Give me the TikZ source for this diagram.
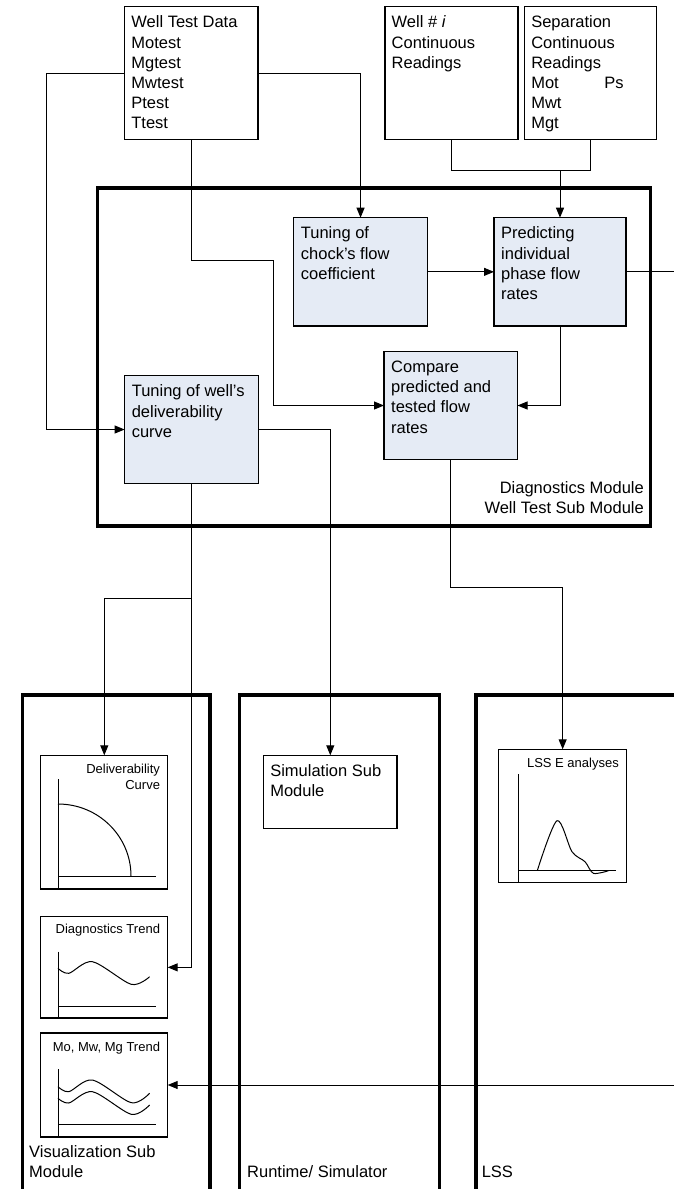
\documentclass[tikz,border=0pt]{standalone}
\usepackage{fontspec}
\setmainfont{Liberation Sans}
\usetikzlibrary{arrows.meta,calc}
\definecolor{boxfill}{RGB}{229,235,245}
\begin{document}
\begin{tikzpicture}[x=1pt,y=-1pt,
  arr/.style={line width=1pt,-{Triangle[length=10pt,width=8pt]}},
  conn/.style={line width=1pt},
  databox/.style={draw,line width=1.3pt,anchor=north west,inner sep=0pt,outer sep=0pt},
  procbox/.style={draw,line width=1.3pt,fill=boxfill,anchor=north west,inner sep=0pt,outer sep=0pt},
  modbox/.style={draw,line width=3.5pt,anchor=north west,inner sep=0pt,outer sep=0pt},
  chartbox/.style={draw,line width=1.1pt,anchor=north west,inner sep=0pt,outer sep=0pt},
  txt/.style={anchor=north west,align=left,inner sep=0pt,font=\fontsize{16.5}{20.2}\selectfont},
  smalltxt/.style={anchor=north east,align=right,inner sep=0pt,font=\fontsize{13}{16}\selectfont},
  curve/.style={line width=1pt}]
\clip (0,0) rectangle (674,1189);
\fill[white] (0,0) rectangle (674,1189);

% top data boxes
\node[databox,minimum width=133.3pt,minimum height=132.6pt] (wtd) at (124.7,6.7) {};
\node[txt] (wtdt) at ($(wtd.north west)+(6.5,9)$) {Well Test Data\\Motest\\Mgtest\\Mwtest\\Ptest\\Ttest};
\node[databox,minimum width=133pt,minimum height=132.6pt] (welli) at (385,6.7) {};
\node[txt] (wellit) at ($(welli.north west)+(6.5,9)$) {Well \# \textit{i}\\Continuous\\Readings};
\node[databox,minimum width=132pt,minimum height=132.6pt] (sep) at (524.6,6.7) {};
\node[txt] (sept) at ($(sep.north west)+(6.5,9)$) {Separation\\Continuous\\Readings\\\makebox[73pt][l]{Mot}Ps\\Mwt\\Mgt};

% diagnostics module
\node[modbox,minimum width=553pt,minimum height=338pt] (diag) at (97.4,188) {};
\node[anchor=south east,align=right,inner sep=0pt,font=\fontsize{16.5}{20.2}\selectfont] (diagt) at (644,514) {Diagnostics Module\\Well Test Sub Module};

\node[procbox,minimum width=133.7pt,minimum height=108.3pt] (chock) at (293.7,217.7) {};
\node[txt] (chockt) at ($(chock.north west)+(7,9)$) {Tuning of\\chock's flow\\coefficient};
\node[procbox,minimum width=132pt,minimum height=108.3pt] (pred) at (494,217.7) {};
\node[txt] (predt) at ($(pred.north west)+(7,9)$) {Predicting\\individual\\phase flow\\rates};
\node[procbox,minimum width=133.5pt,minimum height=107.6pt] (cmp) at (384,351.7) {};
\node[txt] (cmpt) at ($(cmp.north west)+(7,9)$) {Compare\\predicted and\\tested flow\\rates};
\node[procbox,minimum width=133.7pt,minimum height=107.6pt] (well) at (124.6,375.7) {};
\node[txt] (wellt) at ($(well.north west)+(7,9)$) {Tuning of well's\\deliverability\\curve};

% bottom panels
\node[modbox,minimum width=187.6pt,minimum height=520pt] (vis) at (22.4,695) {};
\node[modbox,minimum width=200pt,minimum height=520pt] (run) at (239.6,695) {};
\node[modbox,minimum width=230pt,minimum height=520pt] (lss) at (476,695) {};
\node[txt] (vist) at (29,1145) {Visualization Sub\\Module};
\node[txt] (runt) at (247,1165.5) {Runtime/ Simulator};
\node[txt] (lsst) at (481.6,1165.5) {LSS};

\node[databox,minimum width=133.4pt,minimum height=73pt] (sim) at (263.6,755.3) {};
\node[txt] (simt) at ($(sim.north west)+(6.5,9)$) {Simulation Sub\\Module};

% chart boxes
\node[chartbox,minimum width=126.8pt,minimum height=133.7pt] (deliv) at (40.9,755.3) {};
\node[smalltxt] (delivt) at ($(deliv.north east)+(-7.5,9)$) {Deliverability\\Curve};
\draw[curve] (58,779) -- (58,889);
\draw[curve] (58,876) -- (155.7,876);
\draw[curve] (58,804) .. controls (98.3,804) and (131,836.2) .. (131,876);

\node[chartbox,minimum width=126.8pt,minimum height=101.3pt] (dtrend) at (40.9,916.7) {};
\node[smalltxt] (dtrendt) at ($(dtrend.north east)+(-7.5,7.5)$) {Diagnostics Trend};
\draw[curve] (58,951.7) -- (58,1018);
\draw[curve] (58,1006) -- (155.7,1006);
\draw[curve] plot[smooth] coordinates {(58,968.3) (68.8,973.3) (92.5,961.7) (131.2,984.3) (149.6,976.7)};

\node[chartbox,minimum width=126.8pt,minimum height=104pt] (mtrend) at (40.9,1033) {};
\node[smalltxt] (mtrendt) at ($(mtrend.north east)+(-7.5,9)$) {Mo, Mw, Mg Trend};
\draw[curve] (58,1069) -- (58,1137);
\draw[curve] (58,1124) -- (155.7,1124);
\draw[curve] plot[smooth] coordinates {(58,1086.7) (68.8,1091.7) (92.5,1080) (131.2,1102.7) (149.6,1093.3)};
\draw[curve] plot[smooth] coordinates {(58,1098.3) (68.8,1103) (92.5,1091.7) (131.2,1114.3) (149.6,1105)};

\node[chartbox,minimum width=127.7pt,minimum height=133pt] (lsse) at (498.8,749.3) {};
\node[smalltxt] (lsset) at ($(lsse.north east)+(-7.5,9)$) {LSS E analyses};
\draw[curve] (518,774) -- (518,882.3);
\draw[curve] (518,870) -- (615.8,870);
\draw[curve] plot[smooth] coordinates {(537.5,870) (557,820.7) (572,851.7) (585,861.7) (593.4,873.3) (608.5,870.7)};

% connectors
\coordinate (c1) at (46.4,0);
\draw[arr] (wtd.west) -| (c1 |- well.west) -- (well.west);
\draw[arr] (wtd.east) -| (chock.north);
\coordinate (c2) at (273,260.7);
\draw[arr] (wtd.south) |- (c2) |- (cmp.west);
\coordinate (c3) at (0,170);
\draw[conn] (welli.south) -- (welli.south |- c3) -- (sep.south |- c3) -- (sep.south);
\coordinate (j) at (pred.north |- c3);
\draw[arr] (j) -- (pred.north);
\draw[arr] (chock.east) -- (pred.west);
\coordinate (out1) at (674,0);
\draw[conn] (pred.east) -- (out1 |- pred.east);
\draw[arr] (pred.south) |- (cmp.east);
\draw[arr] (well.east) -| (sim.north);
\draw[arr] (well.south) |- (dtrend.east);
\coordinate (b1) at (0,598);
\draw[arr] (well.south |- b1) -| (deliv.north);
\coordinate (c4) at (0,587);
\draw[arr] (cmp.south) -- (cmp.south |- c4) -| (lsse.north);
\coordinate (in1) at (674,0);
\draw[arr] (in1 |- mtrend.east) -- (mtrend.east);
\end{tikzpicture}
\end{document}
